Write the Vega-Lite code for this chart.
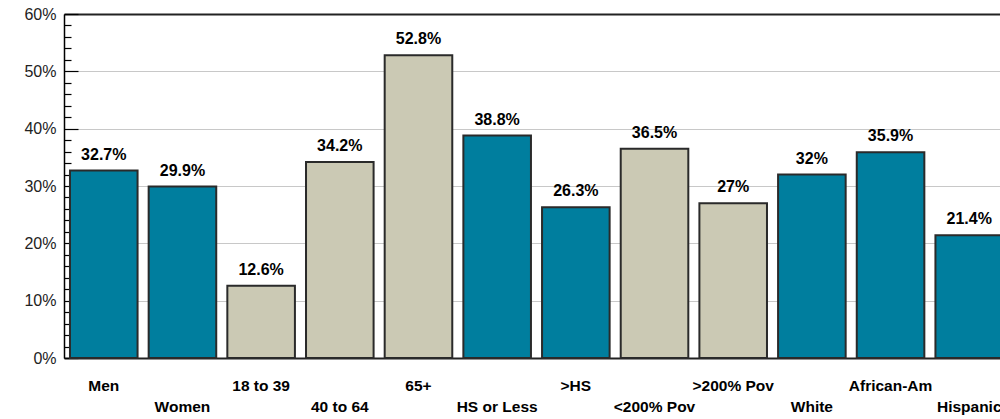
{
  "$schema": "https://vega.github.io/schema/vega-lite/v6.json",
  "width": 936,
  "height": 344,
  "autosize": {"type": "none"},
  "padding": {"left": 64, "top": 14, "right": 0, "bottom": 61},
  "background": "white",
  "config": {"view": {"stroke": null}, "font": "Liberation Sans"},
  "data": {
    "values": [
      {"group": "Men", "cat": "Sex", "value": 0.327},
      {"group": "Women", "cat": "Sex", "value": 0.299},
      {"group": "18 to 39", "cat": "Age", "value": 0.126},
      {"group": "40 to 64", "cat": "Age", "value": 0.342},
      {"group": "65+", "cat": "Age", "value": 0.528},
      {"group": "HS or Less", "cat": "Education", "value": 0.388},
      {"group": ">HS", "cat": "Education", "value": 0.263},
      {"group": "<200% Pov", "cat": "Income", "value": 0.365},
      {"group": ">200% Pov", "cat": "Income", "value": 0.27},
      {"group": "White", "cat": "Race", "value": 0.32},
      {"group": "African-Am", "cat": "Race", "value": 0.359},
      {"group": "Hispanic", "cat": "Race", "value": 0.214}
    ]
  },
  "encoding": {
    "x": {
      "field": "group",
      "type": "nominal",
      "sort": null,
      "scale": {"range": [0, 945], "paddingInner": 0.141, "paddingOuter": 0.076},
      "axis": {
        "title": null,
        "labelAngle": 0,
        "ticks": false,
        "labelPadding": 20,
        "labelFont": "Liberation Sans",
        "labelFontSize": 15.5,
        "labelFontWeight": "bold",
        "labelColor": "black",
        "labelBaseline": "top",
        "labelLineHeight": 21,
        "labelOverlap": false,
        "labelBound": false,
        "labelExpr": "indexof(['Women', '40 to 64', 'HS or Less', '<200% Pov', 'White', 'Hispanic'], datum.value) >= 0 ? ['', datum.label] : datum.label",
        "domainColor": "#222",
        "domainWidth": 2,
        "grid": false
      }
    },
    "y": {
      "field": "value",
      "type": "quantitative",
      "scale": {"domain": [0, 0.6], "nice": false}
    }
  },
  "layer": [
    {
      "mark": {"type": "bar", "stroke": "#2a2a2a", "strokeWidth": 2},
      "encoding": {
        "color": {
          "field": "cat",
          "type": "nominal",
          "scale": {"domain": ["Sex", "Age", "Education", "Income", "Race"], "range": ["#007E9E", "#CBC9B4", "#007E9E", "#CBC9B4", "#007E9E"]},
          "legend": null
        },
        "y": {
          "field": "value",
          "type": "quantitative",
          "scale": {"domain": [0, 0.6], "nice": false},
          "axis": {
            "title": null,
            "values": [0, 0.1, 0.2, 0.3, 0.4, 0.5, 0.6],
            "format": ".0%",
            "labelFont": "Liberation Sans",
            "labelFontSize": 16,
            "labelColor": "#222",
            "labelPadding": 22,
            "tickSize": -14,
            "tickColor": "black",
            "tickWidth": 1.2,
            "domainColor": "black",
            "domainWidth": 1.5,
            "grid": true,
            "gridColor": {"condition": {"test": "datum.value >= 0.59", "value": "#222"}, "value": "#C8C8C8"},
            "gridWidth": {"condition": {"test": "datum.value >= 0.59", "value": 2}, "value": 1}
          }
        }
      }
    },
    {
      "mark": {"type": "text", "baseline": "alphabetic", "dy": -11, "font": "Liberation Sans", "fontSize": 16, "fontWeight": "bold", "color": "black"},
      "encoding": {
        "text": {"field": "value", "type": "quantitative", "format": ".1~%"},
        "y": {
          "field": "value",
          "type": "quantitative",
          "scale": {"domain": [0, 0.6], "nice": false},
          "axis": {
            "orient": "left",
            "title": null,
            "values": [0.02, 0.04, 0.06, 0.08, 0.12, 0.14, 0.16, 0.18, 0.22, 0.24, 0.26, 0.28, 0.32, 0.34, 0.36, 0.38, 0.42, 0.44, 0.46, 0.48, 0.52, 0.54, 0.56, 0.58],
            "labels": false,
            "domain": false,
            "grid": false,
            "tickSize": -7,
            "tickColor": "black",
            "tickWidth": 1.2
          }
        }
      }
    }
  ],
  "resolve": {"axis": {"y": "independent"}}
}
